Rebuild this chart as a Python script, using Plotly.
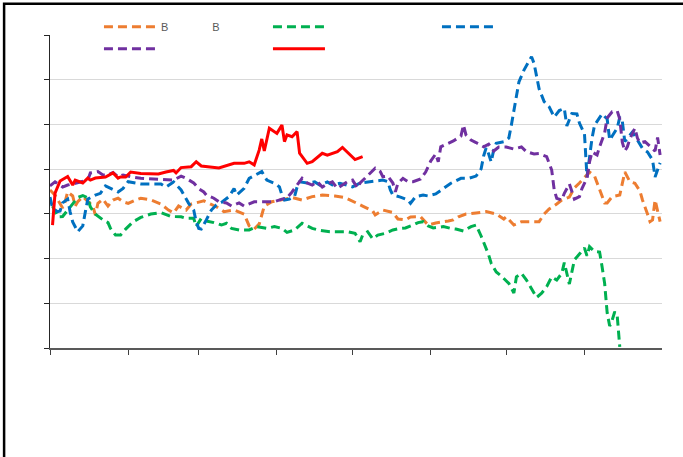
import pandas as pd
import plotly.graph_objects as go

BASE = pd.Timestamp("2023-01-01")

# day offsets from 1 Jan 2023 and values (index units)
orange_days = [0, 2, 5, 6, 7, 9, 10, 11, 13, 15, 17, 18, 19, 21, 23, 25, 27, 29, 31, 34, 36, 40, 44, 47, 49, 51, 54, 56, 59, 61, 66, 69, 73, 77, 79, 81, 83, 85, 88, 92, 96, 100, 104, 108, 113, 117, 121, 124, 128, 129, 132, 136, 138, 141, 143, 147, 150, 153, 158, 160, 162, 165, 169, 173, 177, 180, 181, 184, 187, 194, 196, 198, 201, 203, 206, 208, 210, 214, 216, 218, 220, 221, 223, 226, 228, 230, 232, 234, 235, 237, 238, 239, 240, 242]
orange_vals = [70.7, 68.4, 62.6, 65.4, 69.8, 68.0, 63.5, 65.4, 67.7, 65.4, 63.5, 59.5, 64.7, 66.6, 63.5, 66.2, 67.0, 65.4, 64.7, 66.2, 67.0, 66.2, 64.4, 61.7, 60.4, 63.5, 61.7, 64.4, 65.4, 65.8, 63.2, 61.0, 61.7, 59.9, 54.6, 53.2, 55.5, 63.5, 65.4, 66.2, 67.3, 66.2, 67.7, 68.4, 68.0, 67.3, 65.3, 63.5, 61.3, 59.5, 61.7, 60.6, 57.7, 57.3, 58.6, 58.7, 55.0, 55.9, 56.8, 57.3, 58.7, 59.9, 60.4, 61.0, 59.9, 57.7, 58.7, 55.0, 56.5, 56.5, 59.9, 62.2, 64.4, 66.2, 67.5, 71.6, 73.8, 78.7, 76.9, 70.7, 64.9, 64.9, 67.7, 68.4, 78.7, 74.4, 73.7, 70.2, 66.2, 59.9, 56.5, 57.3, 66.2, 56.5]

green_days = [1, 3, 5, 7, 9, 11, 13, 15, 16, 18, 21, 23, 24, 26, 28, 30, 33, 36, 40, 44, 48, 52, 54, 57, 58, 60, 62, 65, 68, 70, 72, 75, 79, 82, 86, 89, 92, 94, 97, 100, 104, 107, 111, 115, 118, 121, 123, 124, 126, 128, 130, 133, 136, 139, 141, 144, 146, 148, 150, 152, 156, 159, 161, 164, 167, 169, 171, 174, 175, 177, 179, 182, 184, 185, 187, 189, 191, 193, 195, 197, 199, 201, 203, 204, 206, 207, 208, 210, 212, 213, 214, 216, 218, 219, 220, 221, 222, 223, 224, 225, 226]
green_vals = [63.5, 58.7, 58.8, 61.7, 64.9, 67.3, 68.2, 67.1, 63.1, 59.9, 57.3, 56.1, 53.5, 50.5, 50.5, 53.2, 56.5, 58.4, 59.9, 60.6, 58.8, 58.7, 58.0, 58.0, 54.3, 58.0, 56.8, 56.1, 55.0, 55.8, 53.5, 52.8, 52.8, 54.3, 53.5, 54.3, 53.5, 51.7, 52.8, 55.8, 53.5, 52.6, 52.0, 52.0, 52.0, 51.3, 47.5, 50.5, 52.0, 48.8, 50.5, 51.3, 52.8, 53.5, 53.7, 55.0, 56.1, 56.5, 54.6, 53.7, 54.3, 53.5, 53.2, 52.3, 54.3, 55.0, 50.1, 41.6, 37.9, 34.0, 32.2, 28.9, 24.6, 31.8, 33.4, 30.4, 26.7, 22.6, 24.5, 27.4, 31.8, 30.4, 33.4, 38.2, 28.6, 34.0, 39.4, 42.0, 44.7, 41.2, 45.3, 43.1, 42.9, 36.2, 28.9, 15.7, 9.8, 12.5, 16.2, 14.3, 0.5]

blue_days = [0, 1, 3, 4, 5, 7, 8, 9, 11, 13, 14, 15, 18, 20, 22, 25, 27, 29, 31, 36, 40, 44, 46, 49, 52, 54, 55, 57, 58, 59, 60, 62, 64, 66, 68, 71, 73, 74, 77, 79, 82, 84, 86, 89, 91, 92, 93, 95, 97, 98, 99, 102, 105, 107, 110, 112, 115, 118, 120, 123, 128, 132, 134, 135, 136, 139, 142, 143, 145, 148, 150, 153, 156, 159, 163, 166, 169, 171, 172, 173, 174, 175, 176, 177, 180, 182, 183, 184, 185, 186, 188, 191, 192, 193, 194, 196, 198, 200, 202, 204, 205, 207, 209, 210, 212, 213, 215, 216, 218, 219, 221, 222, 223, 225, 226, 227, 228, 231, 233, 235, 237, 239, 240, 242]
blue_vals = [67.5, 62.6, 61.0, 61.3, 64.9, 66.6, 60.8, 56.4, 52.0, 54.6, 60.8, 66.6, 68.4, 69.2, 72.5, 70.7, 69.8, 71.4, 74.4, 73.4, 73.4, 73.4, 72.0, 74.3, 70.7, 67.0, 64.7, 61.7, 56.4, 53.5, 53.2, 57.3, 61.7, 64.0, 65.1, 67.7, 71.3, 68.4, 71.4, 75.9, 77.8, 78.9, 75.1, 73.7, 72.1, 68.4, 66.2, 66.6, 67.7, 72.0, 74.3, 73.8, 74.3, 72.9, 74.3, 72.9, 73.7, 72.9, 72.1, 73.8, 74.4, 75.1, 74.4, 70.7, 68.4, 67.5, 66.2, 64.7, 67.7, 68.4, 68.0, 68.9, 71.3, 73.7, 75.9, 75.9, 76.9, 80.1, 85.9, 89.5, 86.8, 83.2, 88.6, 91.6, 92.3, 93.9, 99.7, 106.5, 112.3, 119.0, 124.3, 130.3, 127.3, 121.2, 115.9, 110.2, 107.9, 103.3, 106.2, 107.2, 99.3, 104.9, 104.7, 100.6, 95.7, 76.5, 93.9, 99.7, 103.3, 104.7, 102.4, 93.0, 94.8, 98.4, 103.3, 101.5, 92.3, 96.6, 93.0, 89.3, 87.7, 84.1, 76.5, 82.8]

purple_days = [0, 2, 5, 7, 9, 12, 15, 16, 19, 21, 23, 25, 27, 29, 32, 36, 41, 46, 49, 52, 54, 57, 59, 61, 62, 65, 67, 70, 72, 75, 77, 81, 85, 89, 92, 94, 96, 98, 100, 102, 104, 106, 108, 110, 112, 114, 116, 118, 120, 122, 123, 125, 127, 129, 131, 132, 134, 136, 137, 138, 140, 142, 144, 147, 149, 151, 153, 154, 155, 158, 160, 163, 164, 165, 167, 169, 172, 174, 176, 178, 181, 184, 187, 189, 192, 194, 197, 199, 200, 201, 203, 204, 205, 206, 208, 210, 211, 213, 214, 215, 217, 218, 220, 221, 223, 225, 226, 227, 228, 229, 230, 232, 233, 234, 236, 238, 240, 241, 242]
purple_vals = [72.5, 74.3, 72.0, 72.9, 73.4, 74.3, 75.1, 78.3, 78.9, 77.4, 77.4, 78.5, 76.6, 77.4, 76.6, 75.9, 75.6, 75.6, 75.1, 76.9, 75.9, 73.8, 71.3, 69.8, 68.4, 67.0, 65.4, 64.9, 63.5, 64.9, 63.5, 65.4, 65.4, 65.4, 66.6, 67.1, 69.8, 72.9, 75.9, 73.8, 72.9, 74.4, 72.0, 73.4, 74.3, 71.4, 72.9, 74.4, 75.1, 71.6, 73.8, 76.0, 78.5, 80.4, 78.9, 76.6, 76.9, 73.8, 69.8, 73.7, 75.9, 74.4, 74.4, 75.6, 78.7, 83.6, 86.8, 83.3, 90.0, 91.6, 92.6, 94.8, 99.7, 95.3, 93.0, 91.9, 90.0, 91.2, 88.1, 89.9, 89.9, 89.0, 89.9, 87.8, 86.8, 87.0, 85.6, 79.6, 70.7, 66.9, 66.2, 69.2, 71.3, 73.4, 66.6, 67.7, 71.3, 76.0, 83.2, 87.7, 86.3, 90.0, 96.2, 102.9, 105.7, 106.0, 102.4, 92.1, 88.1, 90.0, 93.5, 98.3, 93.9, 91.7, 92.3, 90.0, 88.1, 94.2, 86.3]

red_days = [1, 2, 4, 7, 9, 10, 13, 15, 16, 18, 22, 25, 27, 28, 30, 32, 36, 43, 46, 49, 50, 52, 56, 58, 60, 63, 67, 73, 77, 79, 81, 83, 84, 85, 87, 90, 92, 93, 94, 96, 98, 99, 102, 104, 108, 110, 114, 116, 118, 121, 124]
red_vals = [55.0, 69.3, 74.7, 76.7, 72.9, 75.1, 73.8, 76.0, 75.1, 76.0, 76.5, 78.3, 76.0, 76.5, 76.5, 78.7, 78.1, 77.8, 78.7, 79.4, 78.3, 80.7, 81.1, 83.3, 81.4, 81.1, 80.5, 82.6, 82.6, 83.3, 81.9, 88.6, 93.5, 88.1, 98.3, 96.0, 99.7, 92.3, 95.3, 94.5, 96.8, 87.1, 82.6, 83.3, 87.1, 86.3, 87.8, 89.7, 87.4, 84.3, 85.6]

legend_labels = ["B\u2003\u2003\u2003\u2003B", "", "", "", ""]
legend_rows = ["legend", "legend", "legend", "legend2", "legend2"]

series = [
    (orange_days, orange_vals, "#ED7D31", "9px,5px"),
    (green_days, green_vals, "#00B050", "9px,5px"),
    (blue_days, blue_vals, "#0070C0", "9px,5px"),
    (purple_days, purple_vals, "#7030A0", "9px,5px"),
    (red_days, red_vals, "#FF0000", "solid"),
]


def to_dates(days):
    return [BASE + pd.Timedelta(days=d) for d in days]


fig = go.Figure()
for (days, vals, color, dash), label, lg in zip(series, legend_labels, legend_rows):
    fig.add_trace(go.Scatter(
        x=to_dates(days), y=vals, mode="lines", name=label, legend=lg,
        line=dict(color=color, width=3, dash=dash),
    ))

legend_common = dict(
    orientation="h", xanchor="left", yanchor="top",
    entrywidth=102, entrywidthmode="pixels", itemwidth=52,
    bgcolor="rgba(0,0,0,0)", font=dict(size=11, color="#595959"),
    traceorder="normal",
)

fig.update_layout(
    width=683, height=457,
    margin=dict(l=50, r=21, t=35, b=109),
    paper_bgcolor="white", plot_bgcolor="white",
    font=dict(family="Liberation Sans, Arial, sans-serif", size=11, color="#595959"),
    showlegend=True,
    legend=dict(x=0.080, y=1.0728, **legend_common),
    legend2=dict(x=0.080, y=1.0022, **legend_common),
    xaxis=dict(
        type="date", range=["2023-01-01", "2023-08-31 18:00"],
        tick0="2023-01-01", dtick="M1", ticks="outside", ticklen=5,
        tickcolor="#404040", showticklabels=False, showgrid=False,
        showline=True, linecolor="#595959", linewidth=1.5, zeroline=False,
    ),
    yaxis=dict(
        range=[0, 140], dtick=20, ticks="outside", ticklen=5,
        tickcolor="#262626", showticklabels=False, showgrid=True,
        gridcolor="#D9D9D9", gridwidth=1, showline=True,
        linecolor="#262626", linewidth=1, zeroline=False,
    ),
    shapes=[dict(
        type="rect", xref="paper", yref="paper",
        x0=-0.075, x1=1.1, y0=-0.5, y1=1.1,
        line=dict(color="black", width=2.5), fillcolor="rgba(0,0,0,0)",
        layer="above",
    )],
)

fig.write_html("out.html", config={"displayModeBar": False},
               post_script="document.body.style.margin='0px';")
